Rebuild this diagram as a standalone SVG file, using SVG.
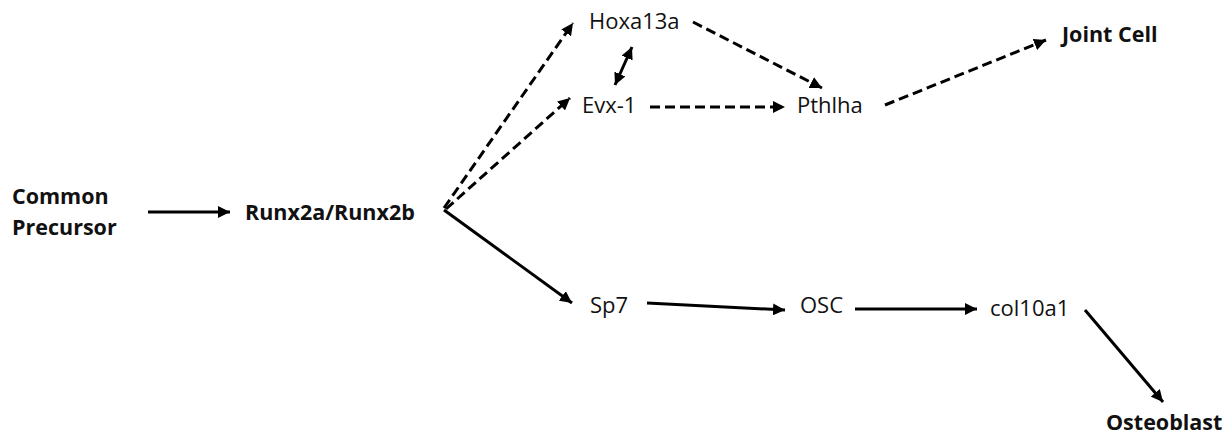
<svg xmlns="http://www.w3.org/2000/svg" width="1229" height="437" viewBox="0 0 1229 437">
<defs>
<marker id="ah" viewBox="0 0 10 10" refX="10" refY="5" markerWidth="4" markerHeight="4" markerUnits="strokeWidth" orient="auto-start-reverse">
<path d="M0,0 L10,5 L0,10 z" fill="#000"/>
</marker>
<style>
text{font-family:"Open Sans","Liberation Sans",sans-serif;fill:#111;font-size:22px}
.b{font-weight:bold;font-size:21.5px}
.c{stroke:#000;stroke-width:3;fill:none;marker-end:url(#ah)}
.d{stroke-dasharray:10 5}
</style>
</defs>
<rect width="1229" height="437" fill="#fff"/>
<g id="connectors">
<line class="c" x1="148" y1="212" x2="230" y2="212"/>
<line class="c d" x1="444" y1="208" x2="573" y2="23"/>
<line class="c d" x1="446" y1="209" x2="570" y2="98"/>
<line class="c" x1="444" y1="210" x2="572" y2="303"/>
<line class="c d" x1="693" y1="22" x2="822" y2="88"/>
<line class="c d" x1="650" y1="107" x2="785" y2="107"/>
<line class="c" style="marker-start:url(#ah)" x1="632" y1="47" x2="615" y2="85"/>
<line class="c d" x1="885" y1="105" x2="1046" y2="40"/>
<line class="c" x1="647" y1="303" x2="785" y2="310"/>
<line class="c" x1="855" y1="309" x2="977" y2="309"/>
<line class="c" x1="1085" y1="310" x2="1163" y2="402"/>
</g>
<g id="common"><text class="b" x="12" y="204">Common</text><text class="b" x="12" y="235">Precursor</text></g>
<g id="runx"><text class="b" x="245" y="220">Runx2a/Runx2b</text></g>
<g id="hoxa"><text x="589" y="29">Hoxa13a</text></g>
<g id="evx"><text x="582" y="113">Evx-1</text></g>
<g id="pthlha"><text x="797" y="113">Pthlha</text></g>
<g id="joint"><text class="b" x="1062" y="42">Joint Cell</text></g>
<g id="sp7"><text x="590" y="313">Sp7</text></g>
<g id="osc"><text x="800" y="313">OSC</text></g>
<g id="col"><text x="990" y="316">col10a1</text></g>
<g id="osteo"><text class="b" x="1106" y="430">Osteoblast</text></g>
</svg>
